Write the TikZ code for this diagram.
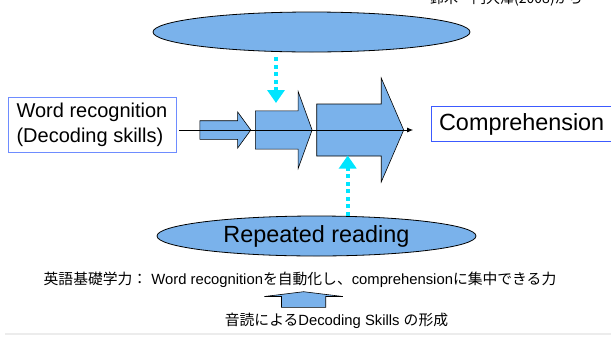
\documentclass[tikz,border=0pt]{standalone}
\usepackage{fontspec}
\setmainfont{Liberation Sans}
\newfontfamily\jp{Noto Sans CJK JP}
\usetikzlibrary{shapes.geometric,shapes.arrows,arrows.meta}
\definecolor{fillblue}{RGB}{122,178,235}
\definecolor{dotcyan}{RGB}{0,229,255}
\definecolor{wordblue}{RGB}{110,140,255}
\definecolor{compblue}{RGB}{60,90,255}

\begin{document}
\begin{tikzpicture}
  [x=1pt,y=-1pt,
    every node/.style={inner sep=0pt},
    oval/.style={ellipse,draw=black,fill=fillblue,line width=0.8pt},
    blockarrow/.style={single arrow,draw=black,fill=fillblue,line width=0.6pt,
      single arrow head indent=0pt,anchor=tail,inner xsep=0pt},
    textbox/.style={draw,line width=0.8pt,fill=white},
    dotarrow/.style={dotcyan,line width=4pt,dash pattern=on 4pt off 3.5pt,
      -{Triangle[width=17pt,length=13pt]}},
  ]
  \useasboundingbox (0,0) rectangle (611,338);
  \node[anchor=base west,font=\jp\fontsize{14}{16}\selectfont] (source) at (430,3) {鈴木・門大澤(2008)から};
  \node[oval,minimum width=317pt,minimum height=40pt] (upper) at (311.5,32) {};
  \node[oval,minimum width=319pt,minimum height=40pt,font=\fontsize{23.4}{26}\selectfont] (lower) at (316.5,236) {Repeated reading};
  \node[textbox,draw=wordblue,minimum width=168pt,minimum height=55pt,align=left,
    font=\fontsize{20}{25}\selectfont] (word) at (92,125.2) {Word recognition\\(Decoding skills)};
  \node[textbox,draw=compblue,anchor=west,text width=170pt,inner xsep=8pt,minimum height=35pt,
    font=\fontsize{23.4}{26}\selectfont] (comp) at (430.7,124.2) {Comprehension};
  \node[blockarrow,minimum height=51pt,inner ysep=9pt,single arrow head extend=8.8pt,
    single arrow tip angle=107.8] (small) at (199.5,130) {};
  \node[blockarrow,minimum height=56.8pt,inner ysep=18.8pt,single arrow head extend=19.35pt,
    single arrow tip angle=140.2] (mid) at (255,130) {};
  \node[blockarrow,minimum height=87pt,inner ysep=25.7pt,single arrow head extend=26pt,
    single arrow tip angle=133.3] (big) at (316.4,130) {};
  \draw[line width=1pt,-{Latex[length=6pt,width=5pt]},shorten <=2.5pt,shorten >=17.5pt]
    (word.east |- small.tail) -- (comp.west |- small.tail);
  \coordinate (down) at (276,103);
  \coordinate (up) at (347.7,155.5);
  \draw[dotarrow,shorten <=5pt] (upper.south -| down) -- (down);
  \draw[dotarrow] (lower.north -| up) -- (up);
  \node[font=\fontsize{14.8}{17}\selectfont] (goal) at (300,280)
    {{\jp 英語基礎学力：}\ Word recognition{\jp を自動化し、}comprehension{\jp に集中できる力}};
  \node[blockarrow,shape border rotate=90,minimum height=15.7pt,inner xsep=21.8pt,inner ysep=0pt,
    single arrow head extend=17.2pt,single arrow tip angle=166] (lift) at (303.6,307.7) {};
  \node[font=\fontsize{14.8}{17}\selectfont] (means) at (336.5,321) {{\jp 音読による}Decoding Skills {\jp の形成}};
  \draw[gray!15,line width=2pt] (5,334) -- (611,334);
\end{tikzpicture}
\end{document}
